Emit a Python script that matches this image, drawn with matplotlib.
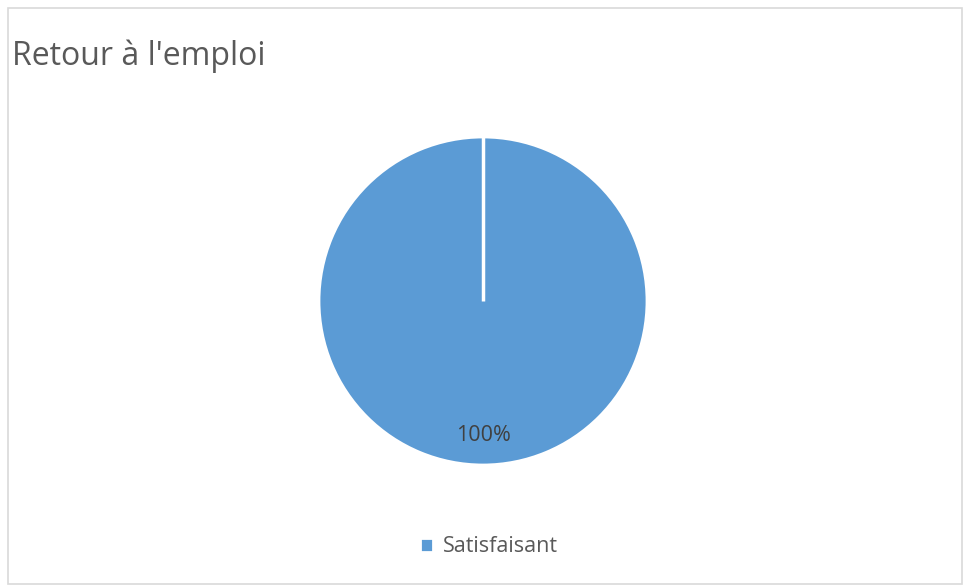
import matplotlib
matplotlib.use("Agg")
import matplotlib.pyplot as plt
import numpy as np
from matplotlib.patches import Rectangle

labels = ["Satisfaisant"]
values = [100]
colors = ["#5B9BD5"]
title = "Retour à l'emploi"
start_angle = 90

W, H = 964, 586
plt.rcParams["font.family"] = ["Open Sans", "DejaVu Sans"]
text_grey = "#595959"

fig = plt.figure(figsize=(W / 100, H / 100), dpi=100)
fig.patch.set_facecolor("white")

# light grey outer frame
fig.add_artist(Rectangle((8 / W, 2 / H), (W - 10) / W, (H - 10) / H,
                         transform=fig.transFigure, fill=False,
                         edgecolor="#D9D9D9", linewidth=1.2))

cx, cy, r = 483, H - 301, 164
ax = fig.add_axes([(cx - r) / W, (cy - r) / H, 2 * r / W, 2 * r / H])
wedges, texts, autotexts = ax.pie(
    values, colors=colors, startangle=start_angle, counterclock=False,
    autopct="%1.0f%%", pctdistance=0.82,
    wedgeprops={"edgecolor": "white", "linewidth": 2},
    textprops={"color": "#404040", "fontsize": 15.5})

# slice border at the start angle (full single slice has no radial edge)
a = np.deg2rad(start_angle)
ax.plot([0, np.cos(a)], [0, np.sin(a)], color="white", linewidth=2.5,
        solid_capstyle="butt")
ax.set_xlim(-1, 1)
ax.set_ylim(-1, 1)
ax.set_aspect("equal")

fig.text(12 / W, 1 - 65 / H, title, fontsize=23, color=text_grey,
         ha="left", va="baseline")

fig.legend(wedges, labels, loc="center", bbox_to_anchor=(489 / W, 39 / H),
           frameon=False, fontsize=15.5, labelcolor=text_grey,
           handlelength=0.62, handleheight=0.62, handletextpad=0.45)

fig.savefig("out.png", dpi=100)
